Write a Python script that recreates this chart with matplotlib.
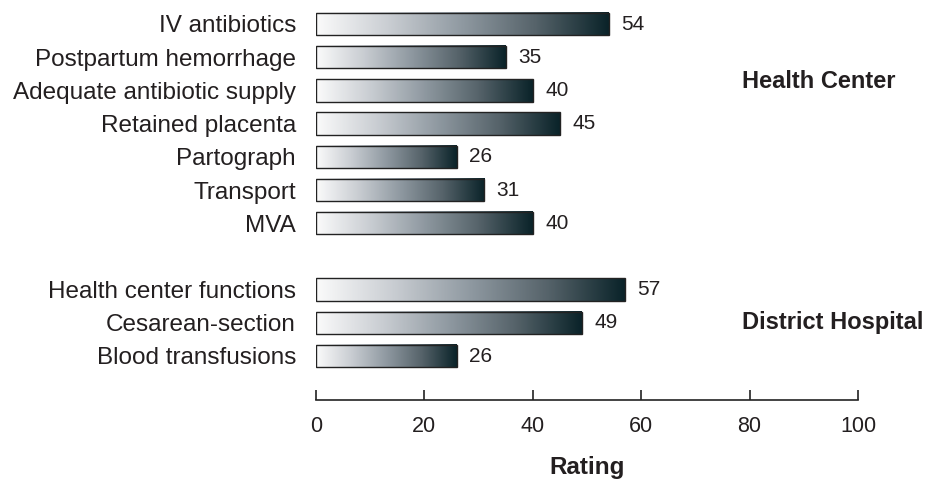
import numpy as np
import matplotlib.pyplot as plt
from matplotlib.colors import LinearSegmentedColormap

plt.rcParams['font.family'] = ['Liberation Sans', 'DejaVu Sans']

categories = ["IV antibiotics", "Postpartum hemorrhage", "Adequate antibiotic supply",
              "Retained placenta", "Partograph", "Transport", "MVA",
              "Health center functions", "Cesarean-section", "Blood transfusions"]
values = [54, 35, 40, 45, 26, 31, 40, 57, 49, 26]
groups = ["Health Center", "District Hospital"]
group_sizes = [7, 3]
ticks = [0, 20, 40, 60, 80, 100]

txt = '#231f20'
cmap = LinearSegmentedColormap.from_list('g', ['#fbfbfb', '#c9cdd2', '#8f99a1', '#56636a', '#0a2329'])

fig = plt.figure(figsize=(9.29, 4.79), dpi=100)
ax = fig.add_axes([316/929, (479-400)/479, (858-316)/929, 400/479])

# positions with a blank row between groups
pos = []
r = 0
for gi, n in enumerate(group_sizes):
    for _ in range(n):
        pos.append(r)
        r += 1
    r += 1

h = 0.68
grad = np.linspace(0, 1, 256).reshape(1, -1)
for p, v in zip(pos, values):
    ax.imshow(grad, cmap=cmap, aspect='auto', extent=(0, v, p + h/2, p - h/2), zorder=2)
    ax.add_patch(plt.Rectangle((0, p - h/2), v, h, fill=False, edgecolor='#222222', lw=1.0, zorder=3))
    ax.text(v + 2.3, p, str(v), va='center', ha='left', fontsize=15, color=txt)

ax.set_xlim(0, 100)
ax.set_ylim((400-24)/33.2, -24/33.2)
ax.set_yticks(pos)
ax.set_yticklabels(categories, fontsize=17.5, color=txt)
ax.tick_params(axis='y', length=0, pad=14.4)
ax.set_xticks(ticks)
ax.set_xticklabels([str(t) for t in ticks], fontsize=15.5, color=txt)
ax.tick_params(axis='x', direction='in', length=7, width=1.2, color='#222222', pad=11.5)
for s in ['top', 'right', 'left']:
    ax.spines[s].set_visible(False)
ax.spines['bottom'].set_linewidth(1.2)
ax.spines['bottom'].set_color('#222222')
ax.set_xlabel('Rating', fontsize=17.5, fontweight='bold', color=txt, labelpad=14)

# group labels
group_y = [(81-24)/33.2, (323-24)/33.2]
for g, gy in zip(groups, group_y):
    ax.text((742-316)/542, gy, g, transform=ax.get_yaxis_transform(),
            fontsize=17, fontweight='bold', color=txt, va='center', ha='left')

fig.savefig('out.png', dpi=100)
